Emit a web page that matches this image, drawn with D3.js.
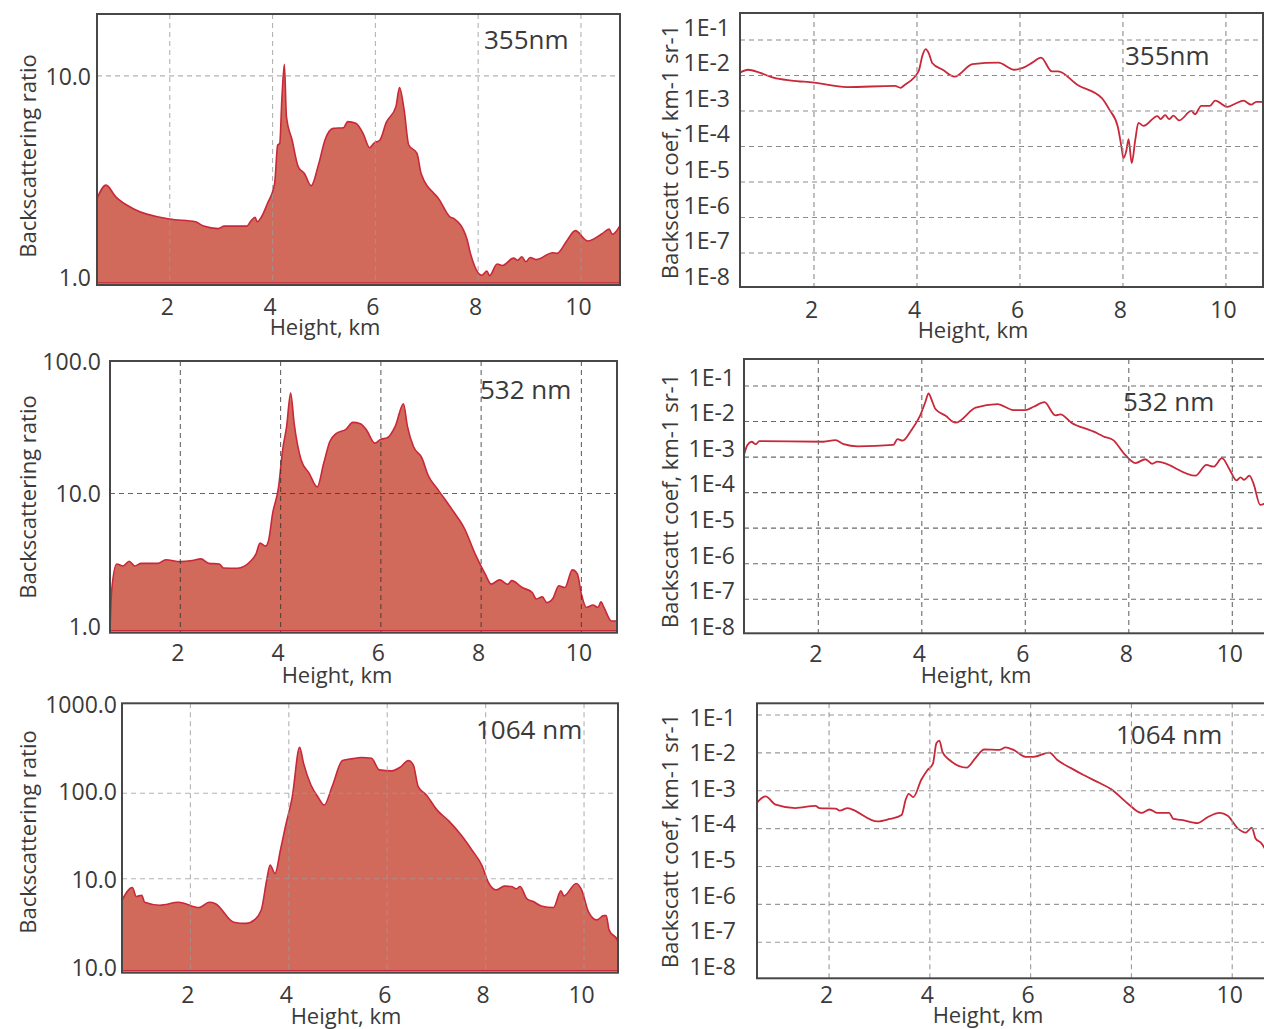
<!DOCTYPE html>
<html><head><meta charset="utf-8">
<script src="https://cdn.jsdelivr.net/npm/d3@7"></script>
<style>
body{margin:0;background:#fff}
svg{display:block}
text{font-family:'Open Sans',sans-serif;fill:#3a3a3a}
</style></head>
<body><svg id="c" width="1264" height="1029"></svg>
<script>
// ---------- DATA (height km, value) ----------
const ratio355 = [[0.584,2.46],[0.76,2.86],[0.95,2.50],[1.31,2.17],[2.0,1.94],[2.50,1.88],[2.66,1.79],[2.94,1.74],[3.06,1.79],[3.50,1.79],[3.58,1.90],[3.66,1.98],[3.70,1.88],[3.78,1.98],[3.90,2.32],[4.04,2.92],[4.10,4.53],[4.14,4.62],[4.18,7.59],[4.23,11.4],[4.27,6.27],[4.38,4.80],[4.50,3.53],[4.62,3.27],[4.75,2.84],[4.90,3.67],[5.02,4.80],[5.18,5.48],[5.38,5.52],[5.46,5.92],[5.62,5.81],[5.76,5.18],[5.89,4.39],[5.97,4.62],[6.09,4.80],[6.21,5.85],[6.40,7.03],[6.47,8.75],[6.56,6.77],[6.65,4.53],[6.81,4.12],[6.89,3.27],[7.25,2.41],[7.45,1.99],[7.53,1.95],[7.78,1.55],[7.85,1.31],[8.07,1.02],[8.17,1.07],[8.22,1.015],[8.37,1.16],[8.47,1.14],[8.69,1.24],[8.77,1.21],[8.85,1.26],[8.93,1.19],[9.01,1.25],[9.13,1.22],[9.45,1.32],[9.53,1.31],[9.73,1.52],[9.89,1.70],[10.13,1.51],[10.41,1.64],[10.55,1.73],[10.61,1.63],[10.76,1.80]];

const coef355 = [[0.563,1.2e-2],[0.72,1.45e-2],[0.94,1.2e-2],[1.21,8.7e-3],[1.56,7.2e-3],[2.0,6.3e-3],[2.64,4.7e-3],[3.57,5.1e-3],[3.68,4.5e-3],[3.76,5.4e-3],[4.03,1.3e-2],[4.11,3.8e-2],[4.17,5.5e-2],[4.23,4.2e-2],[4.30,2.2e-2],[4.50,1.45e-2],[4.73,9.3e-3],[5.08,2.1e-2],[5.58,2.3e-2],[5.89,1.45e-2],[6.04,1.6e-2],[6.24,2.3e-2],[6.41,3.2e-2],[6.62,1.3e-2],[6.74,1.3e-2],[7.12,5.4e-3],[7.59,2.3e-3],[7.74,1.07e-3],[7.90,3.6e-4],[7.97,1.0e-4],[8.01,4.7e-5],[8.07,8.1e-5],[8.11,1.6e-4],[8.17,3.4e-5],[8.24,1.55e-4],[8.30,4.6e-4],[8.40,3.8e-4],[8.67,7.2e-4],[8.73,5.9e-4],[8.82,7.6e-4],[8.90,5.9e-4],[8.98,7.4e-4],[9.09,5.4e-4],[9.33,1.0e-3],[9.40,8.1e-4],[9.52,1.4e-3],[9.69,1.4e-3],[9.79,1.95e-3],[10.03,1.3e-3],[10.18,1.6e-3],[10.34,1.95e-3],[10.49,1.5e-3],[10.59,1.8e-3],[10.72,1.8e-3]];

const ratio532 = [[0.60,1.0],[0.63,1.85],[0.73,2.94],[0.86,2.84],[0.98,3.08],[1.09,2.84],[1.22,2.97],[1.55,2.97],[1.71,3.16],[2.0,3.06],[2.24,3.12],[2.41,3.21],[2.57,2.97],[2.78,2.94],[2.86,2.74],[3.14,2.73],[3.27,2.82],[3.40,3.08],[3.51,3.50],[3.59,4.22],[3.70,4.01],[3.76,4.43],[3.84,7.05],[3.96,11.2],[4.04,21.3],[4.12,32],[4.20,57.4],[4.27,33.9],[4.41,17.9],[4.57,14.2],[4.73,11.2],[4.86,16.9],[4.98,24.6],[5.10,28.2],[5.31,30.6],[5.44,34.4],[5.59,33.6],[5.71,30.3],[5.88,24.0],[6.0,25.7],[6.12,26.2],[6.29,32.4],[6.45,47.6],[6.53,32.1],[6.65,22.6],[6.82,18.5],[6.94,13.8],[7.14,10.7],[7.43,7.47],[7.67,5.42],[7.88,3.50],[8.08,2.47],[8.20,2.07],[8.37,2.23],[8.53,2.06],[8.61,2.20],[8.82,1.95],[9.02,1.79],[9.10,1.60],[9.22,1.66],[9.31,1.50],[9.43,1.61],[9.55,2.01],[9.67,1.95],[9.82,2.65],[9.92,2.47],[10.0,1.74],[10.10,1.38],[10.23,1.44],[10.33,1.38],[10.39,1.52],[10.45,1.38],[10.60,1.09],[10.71,1.09]];

const coef532 = [[0.564,1.15e-3],[0.63,2.2e-3],[0.71,2.7e-3],[0.79,2.3e-3],[0.86,2.8e-3],[2.10,2.7e-3],[2.33,3.0e-3],[2.49,2.3e-3],[2.76,2.0e-3],[3.45,2.2e-3],[3.53,3.2e-3],[3.63,2.9e-3],[3.80,5.8e-3],[3.96,1.4e-2],[4.07,3.6e-2],[4.13,6.2e-2],[4.19,4.1e-2],[4.26,2.3e-2],[4.46,1.45e-2],[4.65,9.3e-3],[5.04,2.45e-2],[5.46,3.1e-2],[5.77,2.1e-2],[6.0,2.1e-2],[6.16,2.6e-2],[6.37,3.5e-2],[6.58,1.5e-2],[6.68,1.6e-2],[6.89,9.3e-3],[7.28,5.5e-3],[7.39,4.7e-3],[7.51,3.8e-3],[7.70,3.0e-3],[7.90,1.3e-3],[8.13,6.8e-4],[8.32,8.7e-4],[8.45,6.5e-4],[8.55,7.4e-4],[9.29,3.0e-4],[9.50,6.0e-4],[9.64,5.4e-4],[9.80,9.3e-4],[9.95,4.4e-4],[10.08,2.2e-4],[10.16,2.7e-4],[10.23,2.3e-4],[10.33,3.0e-4],[10.41,1.8e-4],[10.54,4.5e-5],[10.69,5.6e-5]];

const ratio1064 = [[0.61,5.6],[0.82,7.9],[0.90,6.2],[1.01,6.4],[1.07,5.3],[1.38,4.9],[1.76,5.3],[2.18,4.6],[2.38,5.3],[2.51,5.1],[2.88,3.1],[3.13,3.0],[3.30,3.3],[3.44,4.3],[3.55,9.6],[3.62,14.5],[3.72,11.5],[3.83,21.7],[3.93,40.6],[4.07,91],[4.22,346],[4.30,224],[4.45,125],[4.59,91],[4.72,73],[4.88,120],[5.09,242],[5.30,255],[5.47,263],[5.68,257],[5.84,188],[6.09,183],[6.26,202],[6.43,242],[6.53,215],[6.63,120],[6.80,95],[7.01,64],[7.26,47],[7.51,32],[7.72,21.7],[7.93,14.1],[8.05,9.2],[8.22,7.4],[8.38,8.2],[8.53,8.1],[8.62,7.6],[8.70,8.1],[8.84,5.8],[8.97,5.4],[9.13,4.8],[9.38,4.6],[9.53,7.2],[9.59,6.3],[9.84,8.8],[9.95,7.4],[10.09,4.1],[10.26,3.3],[10.40,3.7],[10.45,3.7],[10.51,2.5],[10.68,1.9],[10.72,1.5]];

const coef1064 = [[0.57,4.9e-4],[0.74,7.1e-4],[0.94,4.3e-4],[1.33,3.5e-4],[1.73,4.0e-4],[1.81,3.5e-4],[2.13,3.4e-4],[2.21,3.0e-4],[2.37,3.5e-4],[2.44,3.3e-4],[2.96,1.55e-4],[3.20,1.8e-4],[3.44,2.3e-4],[3.52,5.8e-4],[3.58,8.3e-4],[3.67,6.8e-4],[3.83,1.95e-3],[3.95,3.5e-3],[4.06,5.1e-3],[4.13,1.8e-2],[4.19,2.1e-2],[4.25,1.07e-2],[4.39,6.5e-3],[4.73,4.1e-3],[4.90,7.2e-3],[5.08,1.23e-2],[5.38,1.2e-2],[5.50,1.4e-2],[5.66,1.2e-2],[5.90,7.9e-3],[6.06,7.9e-3],[6.37,1.02e-2],[6.53,6.5e-3],[6.81,3.9e-3],[7.05,2.6e-3],[7.37,1.6e-3],[7.60,1.1e-3],[7.92,4.7e-4],[8.20,2.6e-4],[8.36,3.2e-4],[8.52,2.6e-4],[8.75,2.6e-4],[8.83,1.8e-4],[8.99,1.7e-4],[9.31,1.4e-4],[9.51,2.0e-4],[9.75,2.6e-4],[9.91,2.2e-4],[10.11,1.02e-4],[10.27,7.9e-5],[10.39,1.07e-4],[10.46,5.6e-5],[10.58,4.1e-5],[10.71,2.1e-5]];

// ---------- TICKS / LABELS ----------
const xTicks = [2,4,6,8,10];
const ratioTicks355 = [1,10];
const ratioLabels355 = ["1.0","10.0"];
const ratioTicks532 = [1,10,100];
const ratioLabels532 = ["1.0","10.0","100.0"];
const ratioTicks1064 = [1,10,100,1000];
const ratioLabels1064 = ["10.0","10.0","100.0","1000.0"];
const coefTicks = [1e-8,1e-7,1e-6,1e-5,1e-4,1e-3,1e-2,1e-1];
const coefLabels = ["1E-8","1E-7","1E-6","1E-5","1E-4","1E-3","1E-2","1E-1"];
const waveLabels = ["355nm","355nm","532 nm","532 nm","1064 nm","1064 nm"];
const xTitle = "Height, km";
const ratioTitle = "Backscattering ratio";
const coefTitle = "Backscatt coef, km-1 sr-1";

// ---------- LAYOUT ----------
const svg = d3.select("#c");
const FILL = "#d16a5a", LINE = "#c8283a", FRAME = "#474747";

const panels = [
 {data:ratio355, kind:"area", wl:waveLabels[0], L:97, R:620, T:14, B:285, xd:[0.584,10.76], yd:[0.912,20.3],
  yt:ratioTicks355, yl:ratioLabels355, lab:null, ypad:6, grid:"#9a9a9a", wlx:484, wly:49, xtb:315, xtitle:[325,335], ytitle:[36,156], title:ratioTitle},
 {data:coef355, kind:"line", wl:waveLabels[1], L:740, R:1263, T:13, B:287, xd:[0.563,10.72], yd:[1.1e-8,0.575],
  yt:coefTicks, yl:coefLabels, lab:{d:[1e-8,1e-1], r:[276,27]}, ypad:10, grid:"#8c8c8c", wlx:1125, wly:65, xtb:318, xtitle:[973,338], ytitle:[678,152], title:coefTitle},
 {data:ratio532, kind:"area", wl:waveLabels[2], L:110, R:617, T:361, B:632.7, xd:[0.597,10.71], yd:[0.89,100],
  yt:ratioTicks532, yl:ratioLabels532, lab:null, ypad:9, grid:"#333", wlx:480, wly:399, xtb:661, xtitle:[337,683], ytitle:[36,497], title:ratioTitle},
 {data:coef532, kind:"line", wl:waveLabels[3], L:744, R:1268, T:359, B:633.3, xd:[0.564,10.69], yd:[1.1e-8,0.575],
  yt:coefTicks, yl:coefLabels, lab:{d:[1e-8,1e-1], r:[626,377]}, ypad:9, grid:"#6a6a6a", wlx:1123, wly:411, xtb:662, xtitle:[976,683], ytitle:[678,501], title:coefTitle},
 {data:ratio1064, kind:"area", wl:waveLabels[4], L:122, R:618, T:703.3, B:972.7, xd:[0.61,10.69], yd:[0.794,1132],
  yt:ratioTicks1064, yl:ratioLabels1064, lab:{d:[1,1000], r:[967,704]}, ypad:5, grid:"#9a9a9a", wlx:476, wly:739, xtb:1003, xtitle:[346,1024], ytitle:[36,832], title:ratioTitle},
 {data:coef1064, kind:"line", wl:waveLabels[5], L:757, R:1268, T:703.3, B:978.3, xd:[0.57,10.71], yd:[1.12e-8,0.204],
  yt:coefTicks, yl:coefLabels, lab:{d:[1e-8,1e-1], r:[966,717]}, ypad:21, grid:"#9a9a9a", wlx:1116, wly:744, xtb:1003, xtitle:[988,1023], ytitle:[678,841], title:coefTitle}
];

panels.forEach((p,i) => {
  const g = svg.append("g");
  const x = d3.scaleLinear().domain(p.xd).range([p.L,p.R]);
  const y = d3.scaleLog().domain(p.yd).range([p.B,p.T]);
  const clipId = "clip"+i;
  svg.append("clipPath").attr("id",clipId).append("rect")
    .attr("x",p.L).attr("y",p.T).attr("width",p.R-p.L).attr("height",p.B-p.T);

  const plot = g.append("g").attr("clip-path",`url(#${clipId})`);
  if (p.kind === "area") {
    plot.append("path").datum(p.data)
      .attr("d", d3.area().x(d=>x(d[0])).y0(p.B-2).y1(d=>y(d[1])).curve(d3.curveMonotoneX))
      .attr("fill",FILL).attr("stroke",LINE).attr("stroke-width",1.6).attr("stroke-linejoin","round");
  }
  // grid
  const grid = g.append("g").attr("stroke",p.grid).attr("stroke-width",1.1).attr("stroke-dasharray","5,4")
     .attr("opacity", p.kind==="area" ? 0.75 : 1);
  grid.selectAll("line.v").data(xTicks).join("line").attr("class","v")
    .attr("x1",d=>x(d)).attr("x2",d=>x(d)).attr("y1",p.T).attr("y2",p.B);
  grid.selectAll("line.h").data(p.yt.filter(t => y(t) > p.T+10 && y(t) < p.B-10)).join("line").attr("class","h")
    .attr("x1",p.L).attr("x2",p.R).attr("y1",d=>y(d)).attr("y2",d=>y(d));

  if (p.kind === "line") {
    plot.append("path").datum(p.data)
      .attr("d", d3.line().x(d=>x(d[0])).y(d=>y(d[1])).curve(d3.curveMonotoneX))
      .attr("fill","none").attr("stroke",LINE).attr("stroke-width",1.8).attr("stroke-linejoin","round");
  }
  // frame
  g.append("rect").attr("x",p.L).attr("y",p.T).attr("width",p.R-p.L).attr("height",p.B-p.T)
    .attr("fill","none").attr("stroke",FRAME).attr("stroke-width",2);

  // x axis labels
  const xa = g.append("g").attr("transform",`translate(0,${p.xtb})`)
    .call(d3.axisBottom(x).tickValues(xTicks).tickSize(0).tickPadding(0).tickFormat(d3.format("d")));
  xa.select(".domain").remove();
  xa.selectAll("text").attr("dy",0).attr("y",0).attr("dx",-3).style("font-size","23px").style("font-family","'Open Sans',sans-serif").attr("fill","#3a3a3a");

  // y axis labels
  const ly = p.lab ? d3.scaleLog().domain(p.lab.d).range(p.lab.r) : y;
  const ya = g.append("g").attr("transform",`translate(${p.L},0)`)
    .call(d3.axisLeft(ly).tickValues(p.yt).tickSize(0).tickPadding(p.ypad).tickFormat((d,k)=>p.yl[k]));
  ya.select(".domain").remove();
  ya.selectAll("text").attr("dy","0.36em").style("font-size","23px").style("font-family","'Open Sans',sans-serif").attr("fill","#3a3a3a");

  // wavelength label
  g.append("text").attr("x",p.wlx).attr("y",p.wly).style("font-size","26px").text(p.wl);
  // titles
  g.append("text").attr("x",p.xtitle[0]).attr("y",p.xtitle[1]).attr("text-anchor","middle").style("font-size","22px").text(xTitle);
  g.append("text").attr("transform",`translate(${p.ytitle[0]},${p.ytitle[1]}) rotate(-90)`)
    .attr("text-anchor","middle").style("font-size","22px").text(p.title);
});
</script></body></html>
